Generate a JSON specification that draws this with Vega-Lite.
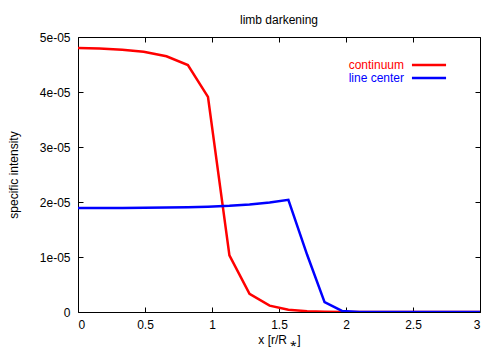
{
  "$schema": "https://vega.github.io/schema/vega-lite/v6.json",
  "width": 402,
  "height": 275,
  "autosize": "none",
  "padding": {"left": 78, "top": 37, "right": 20, "bottom": 38},
  "title": {"text": "limb darkening", "fontSize": 12, "fontWeight": "normal", "font": "Liberation Sans", "offset": 4, "color": "black"},
  "data": {"values": [
    {"x": 0, "y": 4.80e-5, "s": "continuum"},
    {"x": 0.16, "y": 4.79e-5, "s": "continuum"},
    {"x": 0.33, "y": 4.77e-5, "s": "continuum"},
    {"x": 0.49, "y": 4.73e-5, "s": "continuum"},
    {"x": 0.66, "y": 4.65e-5, "s": "continuum"},
    {"x": 0.82, "y": 4.49e-5, "s": "continuum"},
    {"x": 0.97, "y": 3.91e-5, "s": "continuum"},
    {"x": 1.13, "y": 1.03e-5, "s": "continuum"},
    {"x": 1.28, "y": 0.33e-5, "s": "continuum"},
    {"x": 1.43, "y": 0.115e-5, "s": "continuum"},
    {"x": 1.57, "y": 0.04e-5, "s": "continuum"},
    {"x": 1.71, "y": 0.015e-5, "s": "continuum"},
    {"x": 1.84, "y": 0.005e-5, "s": "continuum"},
    {"x": 1.97, "y": 0.002e-5, "s": "continuum"},
    {"x": 2.1, "y": 0, "s": "continuum"},
    {"x": 2.5, "y": 0, "s": "continuum"},
    {"x": 3, "y": 0, "s": "continuum"},
    {"x": 0, "y": 1.89e-5, "s": "line center"},
    {"x": 0.33, "y": 1.89e-5, "s": "line center"},
    {"x": 0.66, "y": 1.90e-5, "s": "line center"},
    {"x": 0.82, "y": 1.905e-5, "s": "line center"},
    {"x": 0.97, "y": 1.915e-5, "s": "line center"},
    {"x": 1.13, "y": 1.93e-5, "s": "line center"},
    {"x": 1.28, "y": 1.955e-5, "s": "line center"},
    {"x": 1.43, "y": 1.99e-5, "s": "line center"},
    {"x": 1.57, "y": 2.04e-5, "s": "line center"},
    {"x": 1.71, "y": 1.04e-5, "s": "line center"},
    {"x": 1.84, "y": 0.18e-5, "s": "line center"},
    {"x": 1.97, "y": 0.02e-5, "s": "line center"},
    {"x": 2.1, "y": 0.002e-5, "s": "line center"},
    {"x": 2.5, "y": 0, "s": "line center"},
    {"x": 3, "y": 0, "s": "line center"}
  ]},
  "layer": [
    {
      "mark": {"type": "line", "strokeWidth": 2.5, "clip": true},
      "encoding": {
        "x": {"field": "x", "type": "quantitative",
              "scale": {"domain": [0, 3], "nice": false},
              "axis": {"orient": "bottom", "values": [0, 0.5, 1, 1.5, 2, 2.5, 3], "format": "~g", "title": "x [r/R \u204e]", "titlePadding": 4, "labelPadding": 12}},
        "y": {"field": "y", "type": "quantitative",
              "scale": {"domain": [0, 5e-5], "nice": false, "zero": true},
              "axis": {"orient": "left", "values": [0, 1e-5, 2e-5, 3e-5, 4e-5, 5e-5],
                       "labelExpr": "datum.value == 0 ? '0' : replace(format(datum.value, '.0e'), 'e-', 'e-0')",
                       "title": "specific intensity", "titlePadding": 19, "labelPadding": 13}},
        "color": {"field": "s", "type": "nominal",
                  "scale": {"domain": ["continuum", "line center"], "range": ["#ff0000", "#0000ff"]},
                  "legend": {"orient": "none", "legendX": 344, "legendY": 21, "title": null,
                             "symbolType": "M-3.1,0H3.1", "symbolSize": 121, "symbolStrokeWidth": 2.5,
                             "labelAlign": "right", "labelOffset": -32, "rowPadding": 0,
                             "labelFontSize": 12, "labelFont": "Liberation Sans",
                             "encode": {"labels": {"update": {"fill": {"scale": "color", "field": "value"}}}}}}
      }
    },
    {
      "mark": {"type": "line", "opacity": 0},
      "encoding": {
        "x": {"field": "x", "type": "quantitative",
              "axis": {"orient": "top", "values": [0, 0.5, 1, 1.5, 2, 2.5, 3], "labels": false, "title": null}},
        "y": {"field": "y", "type": "quantitative",
              "axis": {"orient": "right", "values": [0, 1e-5, 2e-5, 3e-5, 4e-5, 5e-5], "labels": false, "title": null}},
        "detail": {"field": "s"}
      }
    }
  ],
  "resolve": {"axis": {"x": "independent", "y": "independent"}},
  "config": {
    "view": {"stroke": "black", "strokeWidth": 1},
    "axis": {"grid": false, "domain": false, "tickSize": -5, "tickColor": "black", "labelColor": "black",
             "labelFont": "Liberation Sans", "labelFontSize": 12,
             "titleFont": "Liberation Sans", "titleFontSize": 12, "titleFontWeight": "normal", "titleColor": "black"}
  }
}
